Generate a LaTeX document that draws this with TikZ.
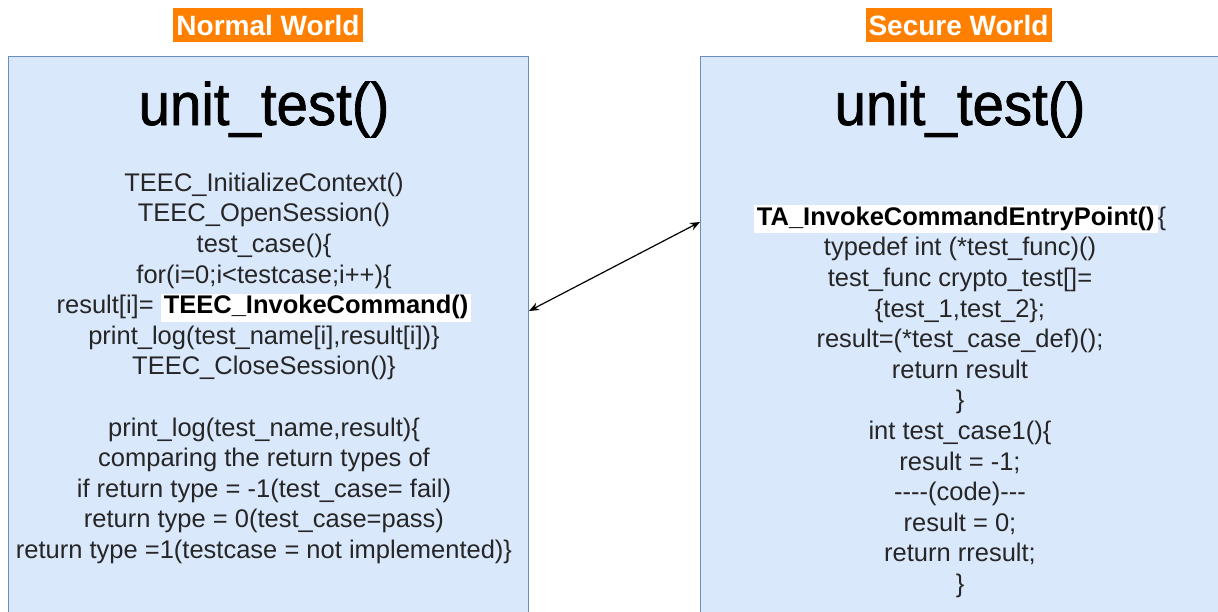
\documentclass[tikz,border=0pt]{standalone}
\usepackage{fontspec}
\setmainfont{Liberation Sans}
\newfontfamily\headfont[FakeBold=1.2,FakeStretch=0.94]{Liberation Sans}
\usetikzlibrary{arrows.meta}

\definecolor{boxfill}{HTML}{DAE8FC}
\definecolor{boxline}{HTML}{6C8EBF}
\definecolor{tagorange}{HTML}{FF8000}

% bold call name set on a white band
\newcommand\hlbox[1]{{\setlength\fboxsep{0pt}\colorbox{white}{\kern3pt\rule[-8pt]{0pt}{28pt}\color{black}\bfseries #1\kern3pt}}}

\begin{document}
\begin{tikzpicture}[x=1pt,y=-1pt,
  worldbox/.style={draw=boxline, fill=boxfill, line width=1pt, anchor=north west, inner sep=0pt},
  tag/.style={fill=tagorange, text=white, font=\fontsize{28}{32}\selectfont\bfseries,
              inner xsep=3pt, inner ysep=0pt, minimum height=34pt},
  title/.style={font=\headfont\fontsize{60}{64}\selectfont, inner sep=0pt, anchor=base},
  code/.style={font=\fontsize{25.5}{30.6}\selectfont, align=center, inner sep=0pt,
               anchor=north, text=black!85},
  link/.style={{Stealth[length=10pt,width=8pt]}-{Stealth[length=10pt,width=8pt]}, line width=1.2pt, black}
]
\useasboundingbox (0,0) rectangle (1218,611);
\clip (0,0) rectangle (1218,611);

% the two worlds
\node[worldbox, minimum width=520pt, minimum height=580pt] (nbox) at (8,56) {};
\node[worldbox, minimum width=540pt, minimum height=580pt] (sbox) at (700,56) {};

% headings
\node[tag] (ntag) at (268,25) {Normal World};
\node[tag] (stag) at (958.5,25) {Secure World};

\node[title] (ntitle) at (264,125) {unit\_test()};
\node[title] (stitle) at (960,125) {unit\_test()};

% client side code
\node[code] (ncode) at (264,169.6) {\strut TEEC\_InitializeContext()\\
TEEC\_OpenSession()\\
test\_case()\{\\
for(i=0;i<testcase;i++)\{\\
result[i]= \hlbox{TEEC\_InvokeCommand()}\\
print\_log(test\_name[i],result[i])\}\\
TEEC\_CloseSession()\}\\
\mbox{}\\
print\_log(test\_name,result)\{\\
comparing the return types of\\
if return type = -1(test\_case= fail)\\
return type = 0(test\_case=pass)\\
return type =1(testcase = not implemented)\}};

% trusted application code
\node[code] (scode) at (960,203.6) {\strut\hlbox{TA\_InvokeCommandEntryPoint()}\{\\
typedef int (*test\_func)()\\
test\_func crypto\_test[]=\\
\{test\_1,test\_2\};\\
result=(*test\_case\_def)();\\
return result\\
\}\\
int test\_case1()\{\\
result = -1;\\
{-}{-}{-}{-}(code){-}{-}{-}\\
result = 0;\\
return rresult;\\
\}};

% invoke command link between the worlds
\path (nbox.north east) ++(0,255) coordinate (callL);
\path (sbox.north west) ++(0,166) coordinate (callR);
\draw[link] (callL) -- (callR);
\end{tikzpicture}
\end{document}
